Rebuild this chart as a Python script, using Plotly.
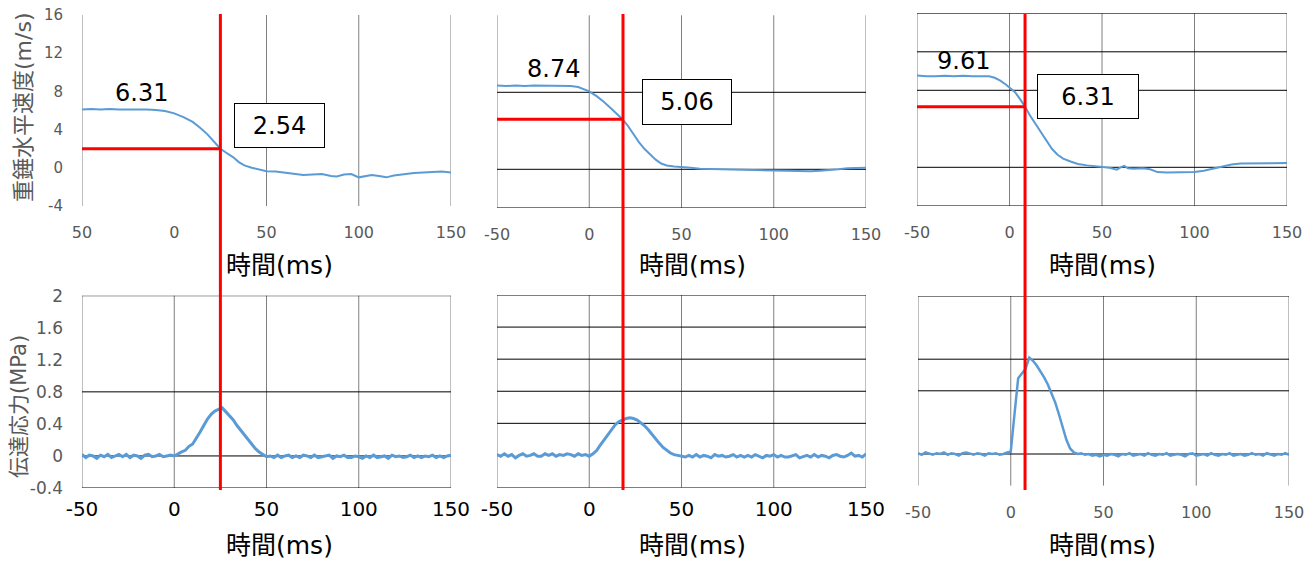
import plotly.graph_objects as go

W, H = 1316, 562

# ---------------- data ----------------
time_ticks = [-50, 0, 50, 100, 150]
time_tick_text_top_left = ["50", "0", "50", "100", "150"]
time_tick_text = ["-50", "0", "50", "100", "150"]
speed_ticks = [-4, 0, 4, 8, 12, 16]
speed_tick_text = ["-4", "0", "4", "8", "12", "16"]
stress_ticks = [-0.4, 0, 0.4, 0.8, 1.2, 1.6, 2]
stress_tick_text = ["-0.4", "0", "0.4", "0.8", "1.2", "1.6", "2"]

# hammer horizontal speed (m/s)
vel1_t = [-50, -45, -40, -35, -30, -25, -20, -15, -10, -5, 0, 5, 10, 14, 18, 22, 25, 28, 32, 35, 38, 42, 46, 50,
          55, 60, 65, 70, 75, 80, 85, 88, 92, 96, 100, 103, 107, 111, 115, 119, 124, 130, 135, 140, 145, 150]
vel1_v = [6.1, 6.15, 6.1, 6.15, 6.1, 6.1, 6.15, 6.1, 6.05, 5.95, 5.7, 5.3, 4.8, 4.2, 3.5, 2.7, 2.0, 1.6, 1.1, 0.6,
          0.25, 0.0, -0.2, -0.35, -0.4, -0.5, -0.6, -0.75, -0.7, -0.65, -0.85, -0.9, -0.7, -0.65, -1.0, -0.9,
          -0.75, -0.85, -1.0, -0.8, -0.65, -0.55, -0.5, -0.45, -0.4, -0.5]

vel2_t = [-50, -45, -40, -35, -30, -25, -20, -15, -10, -6, -3, 0, 4, 8, 12, 15, 18, 21, 24, 27, 30, 33, 36, 39,
          42, 46, 50, 55, 60, 70, 80, 90, 100, 105, 110, 115, 120, 125, 130, 135, 140, 145, 150]
vel2_v = [8.7, 8.65, 8.7, 8.65, 8.7, 8.7, 8.65, 8.7, 8.65, 8.55, 8.35, 8.1, 7.6, 7.0, 6.3, 5.8, 5.2, 4.5, 3.6,
          2.8, 2.1, 1.5, 1.0, 0.6, 0.4, 0.3, 0.2, 0.15, 0.05, 0.0, -0.05, -0.1, -0.15, -0.2, -0.2, -0.25, -0.2,
          -0.15, -0.1, 0.0, 0.1, 0.1, 0.15]

vel3_t = [-50, -45, -40, -35, -30, -25, -20, -15, -11, -8, -5, -2, 0, 3, 6, 8.4, 11, 14, 17, 20, 23, 26, 29, 33,
          37, 42, 46, 50, 54, 58, 60, 62, 64, 67, 72, 76, 80, 85, 90, 95, 100, 105, 110, 115, 120, 125, 130, 135,
          140, 145, 150]
vel3_v = [9.55, 9.45, 9.45, 9.5, 9.45, 9.5, 9.45, 9.45, 9.45, 9.3, 9.0, 8.6, 8.3, 7.8, 7.0, 6.3, 5.4, 4.5, 3.6,
          2.7, 1.9, 1.3, 0.9, 0.6, 0.35, 0.2, 0.1, 0.05, -0.05, -0.25, 0.0, 0.15, -0.1, -0.15, -0.1, -0.2, -0.5,
          -0.55, -0.55, -0.55, -0.5, -0.35, -0.15, 0.1, 0.3, 0.4, 0.4, 0.45, 0.4, 0.4, 0.45]

# transmitted stress (MPa)
stress_t = [-50, -48, -46, -44, -42, -40, -38, -36, -34, -32, -30, -28, -26, -24, -22, -20, -18, -16, -14, -12,
            -10, -8, -6, -4, -2, 0, 2, 4, 6, 8, 10, 12, 14, 16, 18, 20, 22, 24, 26, 28, 30, 32, 34, 36, 38, 40,
            42, 44, 46, 48, 50, 52, 54, 56, 58, 60, 62, 64, 66, 68, 70, 72, 74, 76, 78, 80, 82, 84, 86, 88, 90,
            92, 94, 96, 98, 100, 102, 104, 106, 108, 110, 112, 114, 116, 118, 120, 122, 124, 126, 128, 130, 132,
            134, 136, 138, 140, 142, 144, 146, 148, 150]
stress1 = [0.02, -0.02, 0.01, 0.00, -0.03, 0.01, -0.01, 0.02, -0.02, 0.00, 0.02, -0.01, 0.02, -0.02, 0.01, 0.00,
           -0.03, 0.01, 0.02, -0.01, 0.00, 0.02, -0.01, 0.00, 0.01,
           0.00,
           0.03, 0.05, 0.07, 0.12, 0.15, 0.22, 0.30, 0.38, 0.46, 0.52, 0.56, 0.58, 0.60, 0.55, 0.50, 0.45, 0.38,
           0.32, 0.26, 0.20, 0.15, 0.09, 0.05, 0.02, -0.01,
           0.00, -0.02, 0.01, -0.02, 0.00, 0.01, -0.02, 0.00, -0.02, 0.01, 0.00, -0.02, 0.01, -0.02, -0.01, 0.00,
           0.01, -0.03, 0.00, -0.01, 0.01, -0.02, -0.02, 0.00, -0.01, -0.03, 0.00, -0.02, 0.01, -0.02, -0.01,
           0.00, -0.03, 0.01, -0.01, 0.00, -0.02, -0.01, 0.01, -0.02, 0.00, -0.02, 0.00, -0.01, 0.01, -0.02,
           0.00, -0.02, 0.00, 0.01]
stress2 = [0.01, -0.01, 0.02, -0.01, 0.01, -0.03, 0.00, 0.02, -0.01, 0.00, 0.02, -0.01, -0.01, 0.02, 0.00, 0.02,
           -0.01, 0.01, 0.00, 0.02, 0.01, -0.01, 0.02, 0.00, 0.01,
           -0.01,
           0.02, 0.06, 0.13, 0.19, 0.26, 0.32, 0.38, 0.42, 0.44, 0.46, 0.47, 0.46, 0.44, 0.41, 0.37, 0.32, 0.26,
           0.21, 0.15, 0.10, 0.06, 0.03, 0.01, 0.00, -0.01,
           -0.02, 0.00, -0.02, 0.01, -0.02, 0.00, -0.01, -0.03, 0.01, -0.01, 0.00, -0.02, -0.01, 0.01, -0.02,
           0.00, -0.02, 0.00, -0.02, 0.01, -0.01, -0.03, 0.00, -0.01, 0.01, -0.02, 0.00, -0.02, -0.02, 0.00,
           0.01, -0.03, -0.01, 0.00, -0.02, 0.01, -0.02, 0.00, -0.01, -0.03, 0.00, 0.01, -0.01, -0.02, 0.00,
           0.03, -0.01, 0.00, -0.02, 0.02]
stress3 = [0.01, -0.01, 0.02, 0.00, -0.01, 0.01, 0.00, 0.02, -0.01, 0.01, 0.00, -0.02, 0.01, 0.02, 0.00, -0.01,
           0.01, 0.00, -0.02, 0.01, 0.00, 0.01, -0.01, 0.00, 0.02,
           0.03,
           0.50, 0.96, 1.02, 1.08, 1.22, 1.18, 1.12, 1.05, 0.97, 0.88, 0.77, 0.65, 0.50, 0.34, 0.18, 0.07, 0.02,
           0.00, 0.01, -0.01, 0.00, -0.02, -0.01, -0.03, -0.01,
           -0.02, 0.00, -0.01, -0.03, 0.00, -0.01, 0.01, -0.02, -0.01, 0.00, -0.02, 0.01, -0.01, -0.02, 0.00,
           -0.01, 0.01, -0.02, -0.01, 0.00, -0.01, -0.03, 0.00, 0.01, -0.02, -0.01, 0.00, -0.02, 0.01, -0.01,
           -0.02, 0.00, -0.01, 0.01, -0.02, -0.01, 0.00, -0.02, -0.01, 0.01, -0.01, 0.00, -0.02, 0.01, -0.01,
           -0.02, 0.00, -0.01, 0.01, -0.01]

# read-off cursor positions and their labels
cursor_t = [25, 18.3, 8.4]
cursor_v = [2.0, 5.2, 6.3]
initial_labels = ["6.31", "8.74", "9.61"]
cursor_labels = ["2.54", "5.06", "6.31"]

assert len(stress_t) == len(stress1) == len(stress2) == len(stress3)

# ---------------- layout helpers ----------------
BLUE = "#5B9BD5"
RED = "#FF0000"
GRAY_TXT = "#595959"
NUMFONT = "DejaVu Sans"
JPFONT = "DejaVu Sans, Noto Sans CJK JP"


def fx(p):
    return p / W


def fy(p):
    return 1 - p / H


# panel boxes in pixels: (x0, x1), (ytop, ybottom)
panels = [
    ((82, 451), (15, 206), (-4, 16)),
    ((497, 866), (15.3, 207.8), (-4, 16)),
    ((917, 1287), (13.3, 205.8), (-4, 16)),
    ((82, 451), (295.7, 488), (-0.4, 2)),
    ((497, 866), (295, 487.5), (-0.4, 2)),
    ((918, 1289), (296, 485.6), (-0.4, 2)),
]

vgrids = [
    [-50, 50, 100, 150],
    [-50, 0, 50, 100, 150],
    [-50, 0, 50, 100, 150],
    [-50, 0, 50, 100, 150],
    [-50, 0, 50, 100, 150],
    [-50, 0, 50, 100, 150],
]
hgrids = [
    [],
    [8, 0, -4],
    [16, 12, 8, 0, -4],
    [2, 0.8, 0, -0.4],
    [2, 1.6, 1.2, 0.8, 0.4, -0.4],
    [2, 1.2, 0.8, 0],
]

fig = go.Figure()

series = [(vel1_t, vel1_v, 2), (vel2_t, vel2_v, 2), (vel3_t, vel3_v, 2),
          (stress_t, stress1, 3), (stress_t, stress2, 3), (stress_t, stress3, 2.5)]

layout = dict(
    width=W, height=H, margin=dict(l=0, r=0, t=0, b=0),
    paper_bgcolor="white", plot_bgcolor="rgba(0,0,0,0)", showlegend=False,
)

shapes = []
for i, ((xa, xb), (yt, yb), rng) in enumerate(panels):
    n = "" if i == 0 else str(i + 1)
    t, v, lw = series[i]
    fig.add_trace(go.Scatter(x=t, y=v, mode="lines", line=dict(color=BLUE, width=lw),
                             xaxis="x" + n, yaxis="y" + n, hoverinfo="skip"))
    if i == 0:
        ttext = time_tick_text_top_left
    else:
        ttext = time_tick_text
    if i in (3, 4):
        xfont = dict(family=NUMFONT, size=20, color="#000000")
        stand = 7
    else:
        xfont = dict(family=NUMFONT, size=16, color=GRAY_TXT)
        stand = 15
    layout["xaxis" + n] = dict(
        domain=[fx(xa), fx(xb)], range=[-50, 150], anchor="y" + n, automargin=False,
        showgrid=False, zeroline=False, showline=False, ticks="",
        tickvals=time_ticks, ticktext=ttext, tickfont=xfont, ticklabelstandoff=stand,
        fixedrange=True,
    )
    ydict = dict(
        domain=[fy(yb), fy(yt)], range=list(rng), anchor="x" + n, automargin=False,
        showgrid=False, zeroline=False, showline=False, ticks="", fixedrange=True,
    )
    if i == 0:
        ydict.update(tickvals=speed_ticks, ticktext=speed_tick_text,
                     tickfont=dict(family=NUMFONT, size=15, color=GRAY_TXT), ticklabelstandoff=18)
    elif i == 3:
        ydict.update(tickvals=stress_ticks, ticktext=stress_tick_text,
                     tickfont=dict(family=NUMFONT, size=17, color=GRAY_TXT), ticklabelstandoff=18)
    else:
        ydict.update(showticklabels=False)
    layout["yaxis" + n] = ydict

    xr = "x" if i == 0 else "x" + n
    yr = "y" if i == 0 else "y" + n
    for gv in vgrids[i]:
        shapes.append(dict(type="line", xref=xr, yref=yr + " domain", x0=gv, x1=gv, y0=0, y1=1,
                           line=dict(color="#7F7F7F", width=1), layer="below"))
    for gv in hgrids[i]:
        shapes.append(dict(type="line", xref=xr + " domain", yref=yr, x0=0, x1=1, y0=gv, y1=gv,
                           line=dict(color="#000000", width=1), layer="below"))

# red cursor lines
annotations = []
label_pos = [(141, 93), (553.5, 69), (963.5, 61)]
box_pos = [((234, 325), (103, 148)), ((642, 732), (79, 125)), ((1037, 1139), (74, 119))]
for k in range(3):
    xr = "x" if k == 0 else "x" + str(k + 1)
    yr = "y" if k == 0 else "y" + str(k + 1)
    shapes.append(dict(type="line", xref=xr, yref="paper", x0=cursor_t[k], x1=cursor_t[k],
                       y0=fy(490), y1=fy(14), line=dict(color=RED, width=3), layer="above"))
    shapes.append(dict(type="line", xref=xr, yref=yr, x0=-51, x1=cursor_t[k], y0=cursor_v[k], y1=cursor_v[k],
                       line=dict(color=RED, width=3), layer="above"))
    lx, ly = label_pos[k]
    annotations.append(dict(text=initial_labels[k], x=fx(lx), y=fy(ly), xref="paper", yref="paper",
                            showarrow=False, font=dict(family=NUMFONT, size=24, color="#000000"),
                            xanchor="center", yanchor="middle"))
    (bx0, bx1), (by0, by1) = box_pos[k]
    annotations.append(dict(text=cursor_labels[k], x=fx((bx0 + bx1) / 2), y=fy((by0 + by1) / 2),
                            xref="paper", yref="paper", showarrow=False,
                            font=dict(family=NUMFONT, size=24, color="#000000"),
                            bgcolor="white", bordercolor="#000000", borderwidth=1, borderpad=0,
                            width=bx1 - bx0 - 2, height=by1 - by0 - 2,
                            xanchor="center", yanchor="middle"))

# axis titles
for cx in (279, 692, 1102):
    for cy in (266, 545):
        annotations.append(dict(text="時間(ms)", x=fx(cx), y=fy(cy), xref="paper", yref="paper",
                                showarrow=False, font=dict(family=JPFONT, size=25, color="#000000"),
                                xanchor="center", yanchor="middle"))
annotations.append(dict(text="重錘水平速度(m/s)", x=fx(23), y=fy(108), xref="paper", yref="paper",
                        showarrow=False, textangle=-90,
                        font=dict(family=JPFONT, size=22, color=GRAY_TXT),
                        xanchor="center", yanchor="middle"))
annotations.append(dict(text="伝達応力(MPa)", x=fx(19), y=fy(407), xref="paper", yref="paper",
                        showarrow=False, textangle=-90,
                        font=dict(family=JPFONT, size=21, color=GRAY_TXT),
                        xanchor="center", yanchor="middle"))

layout["shapes"] = shapes
layout["annotations"] = annotations
fig.update_layout(**layout)
fig.write_html(
    "out.html",
    config={"displayModeBar": False},
    post_script="document.body.style.margin='0';document.body.style.overflow='hidden';",
)
